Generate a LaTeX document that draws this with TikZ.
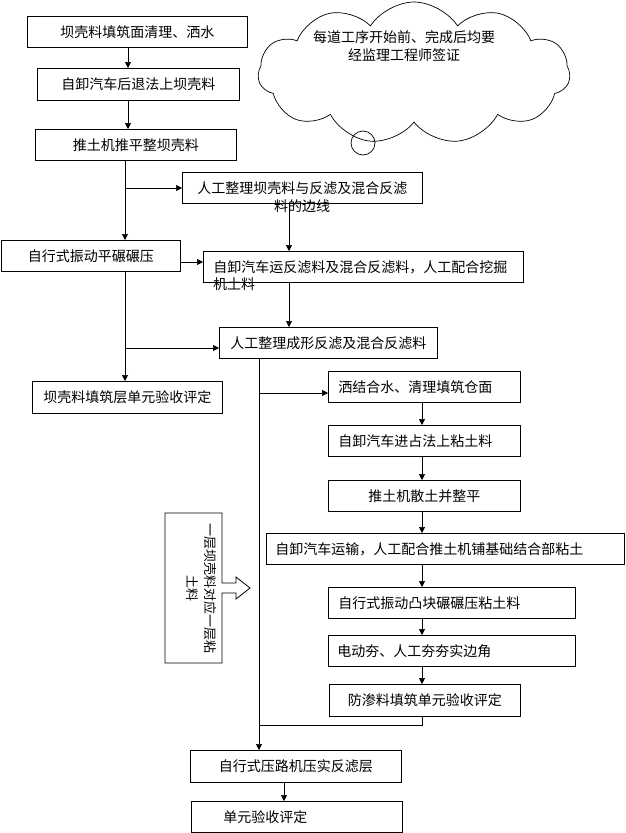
\documentclass[tikz,border=0pt]{standalone}
\usepackage{fontspec}
\newfontfamily\cjk{Noto Sans CJK SC}
\usetikzlibrary{arrows.meta,shapes.symbols,calc}
\begin{document}
\begin{tikzpicture}[x=1pt,y=-1pt,
  font=\cjk\fontsize{14}{18}\selectfont,
  boxc/.style={draw, line width=0.8pt, anchor=north west, inner xsep=0pt, inner ysep=0pt, align=center, minimum height=31pt},
  boxl/.style={draw, line width=0.8pt, anchor=north west, inner xsep=10pt, inner ysep=0pt, align=left, minimum height=31pt},
  arr/.style={line width=0.7pt, -{Triangle[length=6pt,width=6pt]}},
  ln/.style={line width=0.7pt}]
\useasboundingbox (0,0) rectangle (625,833);

% cloud
\node[cloud, draw, line width=0.7pt, cloud puffs=11, cloud puff arc=115, cloud ignores aspect, minimum width=312pt, minimum height=142pt, inner sep=0pt] (cl) at (414,73) {};
\node[circle, draw, line width=0.7pt, minimum size=24pt, inner sep=0pt] (bub) at (363,143) {};
\node[align=center] (cltxt) at (404,46) {每道工序开始前、完成后均要\\经监理工程师签证};

% boxes
\node[boxc, text width=220pt] (n1) at (27,16) {坝壳料填筑面清理、洒水};
\node[boxc, text width=202pt, minimum height=32pt] (n2) at (37,68) {自卸汽车后退法上坝壳料};
\node[boxc, text width=201pt] (n3) at (35,129) {推土机推平整坝壳料};
\node[boxc, text width=240pt] (n4) at (182,172) {人工整理坝壳料与反滤及混合反滤};
\node (l4) at (302,206) {料的边线};
\node[boxc, text width=179pt] (n5) at (1,240) {自行式振动平碾碾压};
\node[boxl, text width=300pt] (n6) at (203,251) {自卸汽车运反滤料及混合反滤料，人工配合挖掘};
\node[anchor=west, inner xsep=0pt] (l6) at (213,284) {机土料};
\node[boxc, text width=218pt] (n7) at (219,327) {人工整理成形反滤及混合反滤料};
\node[boxc, text width=190pt, minimum height=32pt] (n8) at (32,381) {坝壳料填筑层单元验收评定};
\node[boxl, text width=172pt] (n9) at (328,371) {洒结合水、清理填筑仓面};
\node[boxl, text width=172pt] (n10) at (328,425) {自卸汽车进占法上粘土料};
\node[boxc, text width=192pt] (n11) at (328,480) {推土机散土并整平};
\node[boxl, inner xsep=9pt, text width=340pt] (n12) at (266,533) {自卸汽车运输，人工配合推土机铺基础结合部粘土};
\node[boxl, text width=227pt] (n13) at (328,587) {自行式振动凸块碾碾压粘土料};
\node[boxl, inner xsep=9pt, text width=229pt] (n14) at (328,635) {电动夯、人工夯夯实边角};
\node[boxc, text width=191pt, minimum height=32pt] (n15) at (329,684) {防渗料填筑单元验收评定};
\node[boxc, text width=211pt, minimum height=32pt] (n16) at (190,750) {自行式压路机压实反滤层};
\node[boxl, inner xsep=32pt, text width=147pt] (n17) at (191,801) {单元验收评定};

% callout box with arrow
\draw[line width=0.8pt] (165,513) -- (222,513) -- (222,583) -- (236,583) -- (236,577) -- (250,588) -- (236,599) -- (236,593) -- (222,593) -- (222,663) -- (165,663) -- cycle;
\node[rotate=-90, align=center, font=\cjk\fontsize{13}{18}\selectfont] (vt) at (201,588) {一层坝壳料对应一层粘\\土料};

% coordinates for connector columns / rows
\coordinate (xa) at (128,0);
\coordinate (xb) at (125,0);
\coordinate (xc) at (289,0);
\coordinate (xd) at (259,0);
\coordinate (xe) at (422,0);
\coordinate (xf) at (284,0);
\coordinate (ya) at (0,262);
\coordinate (yb) at (0,348);
\coordinate (yc) at (0,393);
\coordinate (yd) at (0,725);
\coordinate (ye) at (0,188);

% connectors
\draw[arr] (n1.south -| xa) -- (n2.north -| xa);
\draw[arr] (n2.south -| xa) -- (n3.north -| xa);
\draw[arr] (n3.south -| xb) -- (n5.north -| xb);
\draw[arr] (xb |- ye) -- (n4.west |- ye);
\draw[arr] (n4.south -| xc) -- (n6.north -| xc);
\draw[arr] (n5.east |- ya) -- (n6.west |- ya);
\draw[arr] (n5.south -| xb) -- (n8.north -| xb);
\draw[arr] (xb |- yb) -- (n7.west |- yb);
\draw[arr] (n6.south -| xc) -- (n7.north -| xc);
\draw[arr] (n7.south -| xd) -- (n16.north -| xd);
\draw[arr] (xd |- yc) -- (n9.west |- yc);
\draw[arr] (n9.south -| xe) -- (n10.north -| xe);
\draw[arr] (n10.south -| xe) -- (n11.north -| xe);
\draw[arr] (n11.south -| xe) -- (n12.north -| xe);
\draw[arr] (n12.south -| xe) -- (n13.north -| xe);
\draw[arr] (n13.south -| xe) -- (n14.north -| xe);
\draw[arr] (n14.south -| xe) -- (n15.north -| xe);
\draw[ln] (n15.south -| xe) -- (xe |- yd) -- (xd |- yd);
\draw[arr] (n16.south -| xf) -- (n17.north -| xf);
\end{tikzpicture}
\end{document}
